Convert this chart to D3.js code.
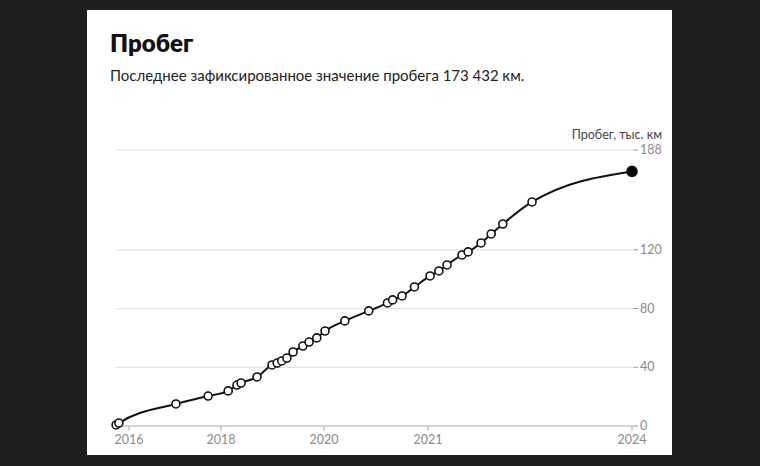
<!DOCTYPE html>
<html>
<head>
<meta charset="utf-8">
<script src="https://cdn.jsdelivr.net/npm/d3@7.9.0/dist/d3.min.js"></script>
<style>
  body { margin: 0; background: #1e1e1e; }
  svg { display: block; }
  text { font-family: Lato, "Noto Sans", sans-serif; }
</style>
</head>
<body>
<svg id="chart" width="760" height="466"></svg>
<script>
// Mileage readings: date as decimal year, value in thousand km
const dates = [2015.72, 2015.78, 2017.02, 2017.72, 2018.14, 2018.31, 2018.39, 2018.70,
  2018.99, 2019.09, 2019.18, 2019.28, 2019.40, 2019.59, 2019.71, 2019.86,
  2020.01, 2020.20, 2020.43, 2020.61, 2020.66, 2020.75, 2020.87,
  2021.03, 2021.16, 2021.28, 2021.50, 2021.59, 2021.78, 2021.93, 2022.10, 2022.53, 2024.0];
const mileage = [0.7, 2.0, 15.0, 20.4, 23.9, 27.9, 29.3, 33.4,
  41.6, 42.9, 44.3, 46.3, 50.4, 54.5, 57.2, 60.0,
  64.7, 71.6, 78.4, 83.8, 85.9, 88.6, 94.7,
  102.2, 105.6, 109.7, 116.5, 118.6, 124.7, 130.8, 137.6, 152.6, 173.432];
const xTicks = [2016, 2018, 2020, 2021, 2024];
const yTicks = [0, 40, 80, 120, 188];

const title = 'Пробег';
const subtitle = 'Последнее зафиксированное значение пробега 173\u202F432\u202Fкм.';
const axisTitle = 'Пробег, тыс. км';

const svg = d3.select('#chart');

// white card
svg.append('rect')
  .attr('x', 87).attr('y', 10)
  .attr('width', 585).attr('height', 445)
  .attr('fill', '#fff');

svg.append('text')
  .attr('x', 110).attr('y', 52)
  .attr('font-size', 24).attr('font-weight', 800)
  .attr('fill', '#111')
  .text(title);

svg.append('text')
  .attr('x', 110).attr('y', 81)
  .attr('font-size', 15)
  .attr('fill', '#222')
  .text(subtitle);

// the time axis in the source is not uniform, so piecewise linear
const x = d3.scaleLinear()
  .domain(xTicks)
  .range([129, 221, 324, 428, 632]);

const y = d3.scaleLinear()
  .domain([0, 188])
  .range([426, 150]);

const left = 116, right = 632;

// gridlines + right axis
const yAxis = svg.append('g');
yAxis.selectAll('line.grid')
  .data(yTicks.filter(d => d > 0))
  .join('line')
  .attr('class', 'grid')
  .attr('x1', left).attr('x2', right)
  .attr('y1', d => y(d)).attr('y2', d => y(d))
  .attr('stroke', '#e2e2e2').attr('stroke-width', 1.2);

yAxis.selectAll('line.tick')
  .data(yTicks)
  .join('line')
  .attr('class', 'tick')
  .attr('x1', right + 1).attr('x2', right + 6)
  .attr('y1', d => y(d)).attr('y2', d => y(d))
  .attr('stroke', '#999');

yAxis.selectAll('text')
  .data(yTicks)
  .join('text')
  .attr('x', right + 8)
  .attr('y', d => y(d))
  .attr('dy', '0.33em')
  .attr('font-size', 12.5)
  .attr('fill', '#8a8a8a')
  .text(d => d);

svg.append('text')
  .attr('x', 662).attr('y', 139)
  .attr('text-anchor', 'end')
  .attr('font-size', 12.5)
  .attr('fill', '#444')
  .text(axisTitle);

// bottom axis
svg.append('line')
  .attr('x1', left).attr('x2', right + 1)
  .attr('y1', y(0)).attr('y2', y(0))
  .attr('stroke', '#aaa').attr('stroke-width', 1.2);

const xAxis = svg.append('g');
xAxis.selectAll('line')
  .data(xTicks)
  .join('line')
  .attr('x1', d => x(d)).attr('x2', d => x(d))
  .attr('y1', y(0)).attr('y2', y(0) + 5)
  .attr('stroke', '#aaa');

xAxis.selectAll('text')
  .data(xTicks)
  .join('text')
  .attr('x', d => x(d))
  .attr('y', y(0) + 18)
  .attr('text-anchor', 'middle')
  .attr('font-size', 12.5)
  .attr('fill', '#8a8a8a')
  .text(d => d);

// line + points
const points = dates.map((d, i) => ({ date: d, value: mileage[i] }));

const line = d3.line()
  .x(d => x(d.date))
  .y(d => y(d.value))
  .curve(d3.curveMonotoneX);

svg.append('path')
  .datum(points)
  .attr('d', line)
  .attr('fill', 'none')
  .attr('stroke', '#111')
  .attr('stroke-width', 2);

svg.selectAll('circle.pt')
  .data(points)
  .join('circle')
  .attr('class', 'pt')
  .attr('cx', d => x(d.date))
  .attr('cy', d => y(d.value))
  .attr('r', (d, i) => i === points.length - 1 ? 5 : 4)
  .attr('fill', (d, i) => i === points.length - 1 ? '#000' : '#fff')
  .attr('stroke', '#111')
  .attr('stroke-width', 1.6);
</script>
</body>
</html>
